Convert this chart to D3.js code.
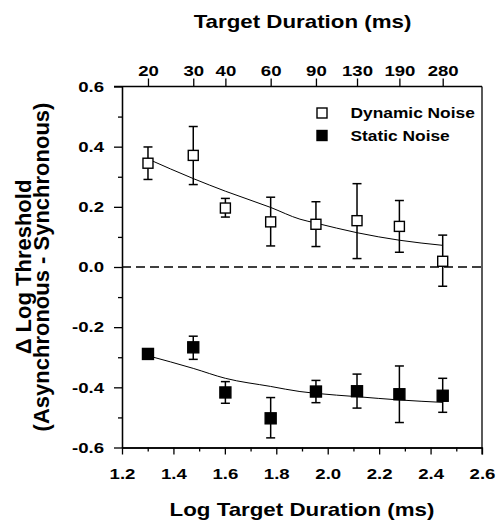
<!DOCTYPE html>
<html>
<head>
<meta charset="utf-8">
<script src="https://cdn.jsdelivr.net/npm/d3@7"></script>
<style>
  body { margin: 0; background: #fff; }
  text { font-family: "Liberation Sans", Arial, sans-serif; font-weight: bold; fill: #000; }
</style>
</head>
<body>
<div id="chart"></div>
<script>
// durations in ms, plotted on a log10 axis
const durations = [20, 30, 40, 60, 90, 130, 190, 280];

// dynamic noise: mean and error bar ends
const dynMean = [0.345, 0.371, 0.196, 0.150, 0.142, 0.154, 0.135, 0.019];
const dynHi   = [0.399, 0.467, 0.228, 0.232, 0.217, 0.277, 0.221, 0.106];
const dynLo   = [0.291, 0.274, 0.166, 0.070, 0.068, 0.028, 0.049, -0.064];

// static noise
const statMean = [-0.289, -0.267, -0.417, -0.503, -0.414, -0.413, -0.423, -0.428];
const statHi   = [-0.279, -0.230, -0.381, -0.434, -0.377, -0.356, -0.329, -0.370];
const statLo   = [-0.299, -0.307, -0.453, -0.568, -0.451, -0.469, -0.517, -0.483];

// fitted curves (log duration, value)
const fitX    = [1.301, 1.477, 1.602, 1.778, 1.892, 1.954, 2.114, 2.279, 2.447];
const dynFit  = [0.359, 0.294, 0.252, 0.198, 0.159, 0.146, 0.114, 0.089, 0.072];
const statFit = [-0.295, -0.337, -0.370, -0.397, -0.414, -0.420, -0.431, -0.442, -0.450];

const xMajor = [1.2, 1.4, 1.6, 1.8, 2.0, 2.2, 2.4, 2.6];
const xMinor = [1.3, 1.5, 1.7, 1.9, 2.1, 2.3, 2.5];
const yMajor = [-0.6, -0.4, -0.2, 0.0, 0.2, 0.4, 0.6];
const yMinor = [-0.5, -0.3, -0.1, 0.1, 0.3, 0.5];

const W = 496, H = 525;
const pLeft = 122, pRight = 482, pTop = 86.5, pBottom = 447.5;
const SX = 1.24; // the original figure's lettering is wider than plain Arial

const svg = d3.select("#chart").append("svg")
    .attr("width", W)
    .attr("height", H);

const x = d3.scaleLinear().domain([1.2, 2.6]).range([pLeft, pRight]);
const y = d3.scaleLinear().domain([-0.6, 0.6]).range([pBottom, pTop]);

function styleAxis(g) {
    g.selectAll("path, line").attr("stroke", "#000").attr("stroke-width", 1.3);
    g.selectAll("text").attr("font-size", "15px").attr("fill", "#000")
        .style("font-family", "'Liberation Sans', Arial, sans-serif").style("font-weight", "bold");
}
// widen tick labels around their anchor point
function widenTicks(g) {
    g.selectAll("text").each(function() {
        const t = d3.select(this);
        const tx = +t.attr("x") || 0;
        t.attr("x", 0).attr("transform", `translate(${tx},0) scale(${SX},1)`);
    });
}
function label(str, lx, ly, size, anchor) {
    return svg.append("text")
        .attr("transform", `translate(${lx},${ly}) scale(${SX},1)`)
        .attr("text-anchor", anchor || "middle")
        .attr("font-size", size + "px")
        .text(str);
}

// bottom axis
svg.append("g")
    .attr("transform", `translate(0,${pBottom})`)
    .call(d3.axisBottom(x).tickValues(xMajor).tickFormat(d3.format(".1f")).tickSize(7).tickSizeOuter(0).tickPadding(14))
    .call(styleAxis).call(widenTicks);
svg.append("g")
    .attr("transform", `translate(0,${pBottom})`)
    .call(d3.axisBottom(x).tickValues(xMinor).tickFormat("").tickSize(4).tickSizeOuter(0))
    .call(styleAxis);

// left axis
svg.append("g")
    .attr("transform", `translate(${pLeft},0)`)
    .call(d3.axisLeft(y).tickValues(yMajor).tickFormat(d => d.toFixed(1)).tickSize(8).tickSizeOuter(0).tickPadding(10))
    .call(styleAxis).call(widenTicks);
svg.append("g")
    .attr("transform", `translate(${pLeft},0)`)
    .call(d3.axisLeft(y).tickValues(yMinor).tickFormat("").tickSize(4).tickSizeOuter(0))
    .call(styleAxis);

// top axis with the raw durations
svg.append("g")
    .attr("transform", `translate(0,${pTop})`)
    .call(d3.axisTop(x).tickValues(durations.map(d => Math.log10(d))).tickFormat((d, i) => durations[i]).tickSize(8).tickSizeOuter(0).tickPadding(2.5))
    .call(styleAxis).call(widenTicks)
    .call(g => g.select(".domain").remove());
svg.append("line")
    .attr("x1", pLeft - 8).attr("x2", pRight)
    .attr("y1", pTop).attr("y2", pTop)
    .attr("stroke", "#000").attr("stroke-width", 1.3);

// right frame
svg.append("line")
    .attr("x1", pRight).attr("x2", pRight)
    .attr("y1", pTop).attr("y2", pBottom + 7)
    .attr("stroke", "#000").attr("stroke-width", 1.3);

// zero line
svg.append("line")
    .attr("x1", pLeft).attr("x2", pRight)
    .attr("y1", y(0)).attr("y2", y(0))
    .attr("stroke", "#000").attr("stroke-width", 1.3)
    .attr("stroke-dasharray", "9,5");

// fits
const line = d3.line().x(d => x(d[0])).y(d => y(d[1])).curve(d3.curveMonotoneX);
[dynFit, statFit].forEach(fit => {
    svg.append("path")
        .datum(fitX.map((v, i) => [v, fit[i]]))
        .attr("d", line)
        .attr("fill", "none")
        .attr("stroke", "#000")
        .attr("stroke-width", 1);
});

function drawSeries(mean, hi, lo, fill, size) {
    const data = durations.map((d, i) => ({ lx: Math.log10(d), m: mean[i], hi: hi[i], lo: lo[i] }));
    const g = svg.append("g");
    g.selectAll(".bar").data(data).enter().append("line")
        .attr("x1", d => x(d.lx)).attr("x2", d => x(d.lx))
        .attr("y1", d => y(d.hi)).attr("y2", d => y(d.lo))
        .attr("stroke", "#000").attr("stroke-width", 1.5);
    ["hi", "lo"].forEach(k => {
        g.selectAll(".cap-" + k).data(data).enter().append("line")
            .attr("x1", d => x(d.lx) - 4.5).attr("x2", d => x(d.lx) + 4.5)
            .attr("y1", d => y(d[k])).attr("y2", d => y(d[k]))
            .attr("stroke", "#000").attr("stroke-width", 1.5);
    });
    g.selectAll("rect").data(data).enter().append("rect")
        .attr("x", d => x(d.lx) - size / 2)
        .attr("y", d => y(d.m) - size / 2)
        .attr("width", size).attr("height", size)
        .attr("fill", fill)
        .attr("stroke", "#000").attr("stroke-width", 1.4);
}
drawSeries(dynMean, dynHi, dynLo, "#fff", 10);
drawSeries(statMean, statHi, statLo, "#000", 11);

// legend
const legend = [["Dynamic Noise", "#fff", 113], ["Static Noise", "#000", 135.5]];
legend.forEach(([name, fill, ly]) => {
    svg.append("rect")
        .attr("x", 317).attr("y", ly - 5)
        .attr("width", 10).attr("height", 10)
        .attr("fill", fill).attr("stroke", "#000").attr("stroke-width", 1.4);
    label(name, 350.5, ly + 5, 14, "start");
});

// titles
label("Target Duration (ms)", 302.5, 28, 18);
label("Log Target Duration (ms)", 302, 516, 18);
svg.append("text")
    .attr("transform", `translate(30.5,${y(0)}) rotate(-90)`)
    .attr("text-anchor", "middle")
    .attr("font-size", "22px")
    .text("\u0394 Log Threshold");
svg.append("text")
    .attr("transform", `translate(49,${y(0)}) rotate(-90)`)
    .attr("text-anchor", "middle")
    .attr("font-size", "22px")
    .text("(Asynchronous - Synchronous)");
</script>
</body>
</html>
